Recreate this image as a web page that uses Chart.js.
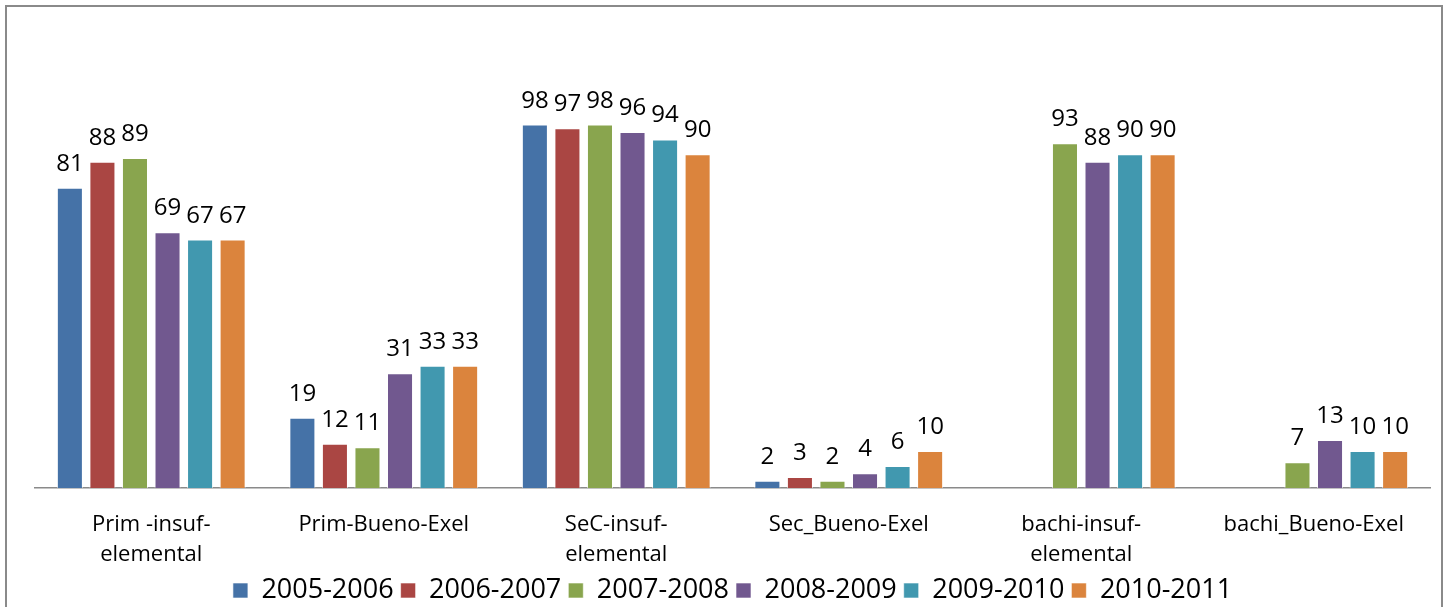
<!DOCTYPE html>
<html>
<head>
<meta charset="utf-8">
<script src="https://cdn.jsdelivr.net/npm/chart.js@4.4.0/dist/chart.umd.min.js"></script>
<style>
  body { margin: 0; background: #fff; }
  #wrap { position: absolute; left: 0; top: 0; width: 1448px; height: 607px; }
  #frame { position: absolute; left: 5px; top: 5px; width: 1434px; height: 640px; border: 2px solid #8a8a8a; pointer-events: none; }
</style>
</head>
<body>
<div id="wrap"><canvas id="chart"></canvas></div>
<div id="frame"></div>
<script>
var categories = [
    ['Prim -insuf-', 'elemental'],
    ['Prim-Bueno-Exel'],
    ['SeC-insuf-', 'elemental'],
    ['Sec_Bueno-Exel'],
    ['bachi-insuf-', 'elemental'],
    ['bachi_Bueno-Exel']
];
var years = ['2005-2006', '2006-2007', '2007-2008', '2008-2009', '2009-2010', '2010-2011'];
var v2005 = [81, 19, 98, 2, null, null];
var v2006 = [88, 12, 97, 3, null, null];
var v2007 = [89, 11, 98, 2, 93, 7];
var v2008 = [69, 31, 96, 4, 88, 13];
var v2009 = [67, 33, 94, 6, 90, 10];
var v2010 = [67, 33, 90, 10, 90, 10];
var colors = ['#4572A7', '#AA4643', '#89A54E', '#71588F', '#4198AF', '#DB843D'];

var series = [v2005, v2006, v2007, v2008, v2009, v2010];
var fontFamily = "'Open Sans', Lato, sans-serif";

// draws the value above each bar
var valueLabels = {
    id: 'valueLabels',
    afterDatasetsDraw: function(chart) {
        var ctx = chart.ctx;
        ctx.save();
        ctx.font = '24px ' + fontFamily;
        ctx.fillStyle = '#000';
        ctx.textAlign = 'center';
        ctx.textBaseline = 'alphabetic';
        chart.data.datasets.forEach(function(ds, i) {
            var meta = chart.getDatasetMeta(i);
            meta.data.forEach(function(bar, j) {
                if (ds.data[j] === null) return;
                ctx.fillText(ds.data[j], bar.x, bar.y - 17);
            });
        });
        ctx.restore();
    }
};

var ctx = document.getElementById('chart').getContext('2d');
var myChart = new Chart(ctx, {
    type: 'bar',
    data: {
        labels: categories,
        datasets: years.map(function(y, i) {
            return {
                label: y,
                data: series[i],
                backgroundColor: colors[i],
                borderColor: 'rgba(255,255,255,0.6)',
                borderWidth: 1,
                barPercentage: 0.8,
                categoryPercentage: 0.84
            };
        })
    },
    options: {
        responsive: true,
        maintainAspectRatio: false,
        animation: false,
        layout: { padding: { left: 35, right: 18, top: 43, bottom: -7 } },
        scales: {
            x: {
                grid: { display: false },
                border: { display: true, color: '#8a8a8a', width: 1.5 },
                ticks: { color: '#000', font: { size: 22, family: fontFamily, lineHeight: 1.36 }, padding: 14, maxRotation: 0 },
                afterFit: function(scale) { scale.height -= 14; }
            },
            y: {
                display: false,
                min: 0,
                max: 120
            }
        },
        plugins: {
            legend: {
                position: 'bottom',
                labels: {
                    color: '#000',
                    boxWidth: 15,
                    boxHeight: 15,
                    padding: 7,
                    font: { size: 27, family: fontFamily, lineHeight: 1 }
                }
            },
            tooltip: { enabled: false }
        }
    },
    plugins: [valueLabels]
});
</script>
</body>
</html>
